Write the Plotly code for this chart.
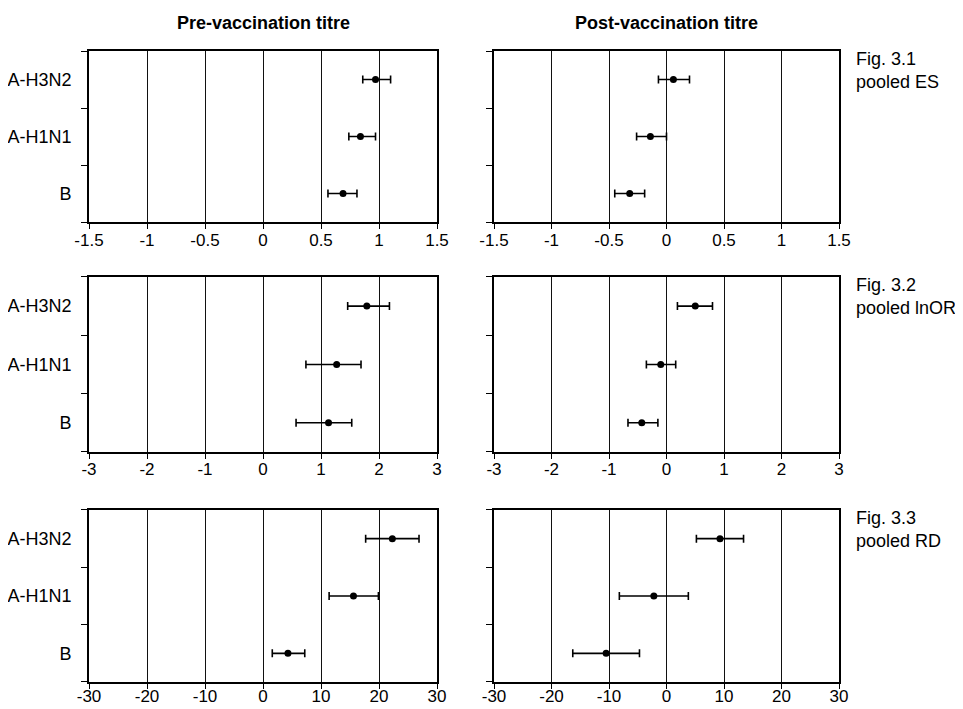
import plotly.graph_objects as go
from plotly.subplots import make_subplots

categories = ["A-H3N2", "A-H1N1", "B"]
cat_pos = [2.5, 1.5, 0.5]

# Fig 3.1 pooled ES
es_pre = [0.97, 0.84, 0.69]
es_pre_lo = [0.86, 0.74, 0.56]
es_pre_hi = [1.10, 0.97, 0.81]
es_post = [0.06, -0.14, -0.32]
es_post_lo = [-0.07, -0.26, -0.45]
es_post_hi = [0.20, 0.00, -0.19]
# Fig 3.2 pooled lnOR
or_pre = [1.79, 1.27, 1.13]
or_pre_lo = [1.46, 0.74, 0.57]
or_pre_hi = [2.18, 1.69, 1.53]
or_post = [0.50, -0.10, -0.43]
or_post_lo = [0.19, -0.35, -0.67]
or_post_hi = [0.80, 0.16, -0.15]
# Fig 3.3 pooled RD
rd_pre = [22.3, 15.6, 4.3]
rd_pre_lo = [17.7, 11.4, 1.6]
rd_pre_hi = [26.9, 19.9, 7.2]
rd_post = [9.3, -2.2, -10.5]
rd_post_lo = [5.2, -8.2, -16.3]
rd_post_hi = [13.4, 3.8, -4.7]

col_titles = ["Pre-vaccination titre", "Post-vaccination titre"]
fig_labels = ["Fig. 3.1<br>pooled ES", "Fig. 3.2<br>pooled lnOR", "Fig. 3.3<br>pooled RD"]
x_ticks = [[-1.5, -1, -0.5, 0, 0.5, 1, 1.5], [-3, -2, -1, 0, 1, 2, 3], [-30, -20, -10, 0, 10, 20, 30]]
x_ticktext = [["-1.5", "-1", "-0.5", "0", "0.5", "1", "1.5"],
              ["-3", "-2", "-1", "0", "1", "2", "3"],
              ["-30", "-20", "-10", "0", "10", "20", "30"]]

panels = [
    [(es_pre, es_pre_lo, es_pre_hi), (es_post, es_post_lo, es_post_hi)],
    [(or_pre, or_pre_lo, or_pre_hi), (or_post, or_post_lo, or_post_hi)],
    [(rd_pre, rd_pre_lo, rd_pre_hi), (rd_post, rd_post_lo, rd_post_hi)],
]

FONT = "Liberation Sans, Arial, Helvetica, sans-serif"
FS = 18
FS_TICK = 17

fig = make_subplots(rows=3, cols=2)

for r in range(3):
    for c in range(2):
        est, lo, hi = panels[r][c]
        fig.add_trace(go.Scatter(
            x=est, y=cat_pos, mode="markers",
            marker=dict(color="black", size=7, symbol="circle"),
            error_x=dict(type="data", symmetric=False,
                         array=[h - e for h, e in zip(hi, est)],
                         arrayminus=[e - l for e, l in zip(est, lo)],
                         color="black", thickness=1.6, width=4),
            showlegend=False, hoverinfo="skip"),
            row=r + 1, col=c + 1)

x_domains = [[0.0, 0.464], [0.54, 1.0]]
y_domains = [[0.729, 1.0], [0.3645, 0.642], [0.0, 0.2726]]
x_standoff = [-3, -4, -7]

for r in range(3):
    for c in range(2):
        idx = r * 2 + c + 1
        xa = "xaxis" if idx == 1 else f"xaxis{idx}"
        ya = "yaxis" if idx == 1 else f"yaxis{idx}"
        rng = [x_ticks[r][0], x_ticks[r][-1]]
        fig.layout[xa].update(
            domain=x_domains[c], range=rng, automargin=False,
            tickvals=x_ticks[r], ticktext=x_ticktext[r],
            ticks="outside", ticklen=5, tickwidth=1.2, tickcolor="black",
            ticklabelstandoff=x_standoff[r],
            showgrid=True, gridcolor="#111111", gridwidth=1,
            zeroline=False, showline=True, mirror=True,
            linecolor="black", linewidth=1.8,
            tickfont=dict(family=FONT, size=FS_TICK, color="black"),
        )
        fig.layout[ya].update(
            domain=y_domains[r], range=[0, 3], automargin=False,
            tickvals=cat_pos, ticktext=categories if c == 0 else ["", "", ""],
            showticklabels=(c == 0), ticks="", ticklen=0, ticklabelstandoff=12,
            minor=dict(tickvals=[0, 1, 2, 3], ticks="outside", ticklen=6,
                       tickwidth=1.2, tickcolor="black", showgrid=False),
            showgrid=False, zeroline=False, showline=True, mirror=True,
            linecolor="black", linewidth=1.8,
            tickfont=dict(family=FONT, size=FS, color="black"),
        )

annotations = []
for c in range(2):
    annotations.append(dict(
        text=f"<b>{col_titles[c]}</b>", xref="paper", yref="paper",
        x=sum(x_domains[c]) / 2, y=1.0, yshift=28, xanchor="center", yanchor="middle",
        showarrow=False, font=dict(family=FONT, size=FS, color="black")))
for r in range(3):
    annotations.append(dict(
        text=fig_labels[r], xref="paper", yref="paper",
        x=1.0, xshift=15, y=y_domains[r][1], yshift=4, xanchor="left", yanchor="top",
        align="left", showarrow=False, font=dict(family=FONT, size=FS, color="black")))

# page body has an 8px margin, so the figure is sized to fill the rest of the window
fig.update_layout(
    width=955, height=701,
    margin=dict(l=81, r=124, t=43, b=27),
    paper_bgcolor="white", plot_bgcolor="white",
    annotations=annotations,
    font=dict(family=FONT, color="black"),
)

fig.write_html("out.html")
